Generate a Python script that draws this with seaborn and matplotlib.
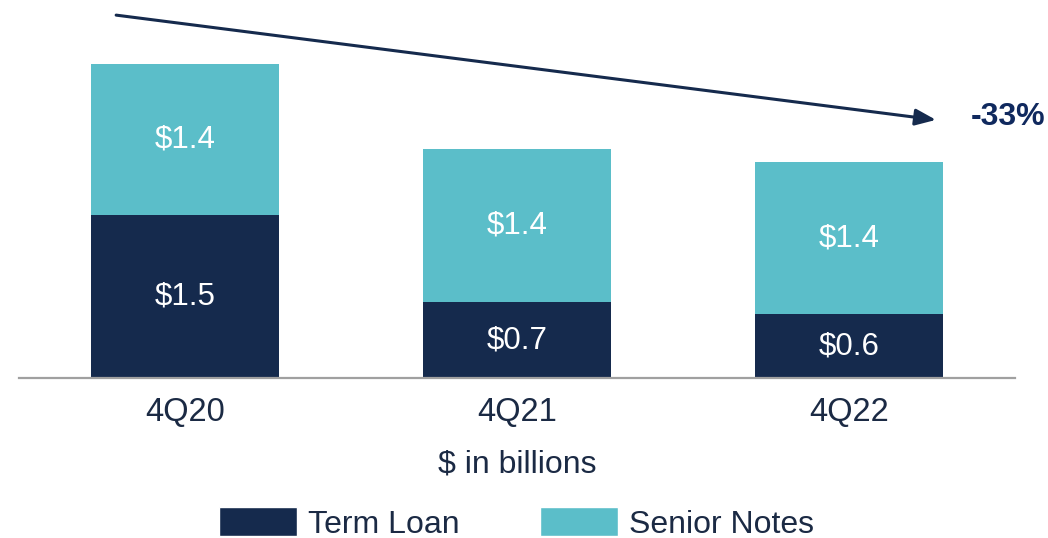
import matplotlib
matplotlib.use("Agg")
import matplotlib.pyplot as plt
from matplotlib.patches import Patch
import pandas as pd
import seaborn as sns

quarters = ["4Q20", "4Q21", "4Q22"]
term_loan = [1.51, 0.70, 0.59]
senior_notes = [1.40, 1.42, 1.41]
term_labels = ["$1.5", "$0.7", "$0.6"]
senior_labels = ["$1.4", "$1.4", "$1.4"]
change_label = "-33%"

navy = "#152a4d"
teal = "#5bbec9"
text_col = "#1b2a44"

df = pd.DataFrame({"quarter": quarters, "term": term_loan, "senior": senior_notes})
df["total"] = df["term"] + df["senior"]

sns.set_style("white")
plt.rcParams["font.family"] = ["Liberation Sans", "DejaVu Sans"]

fig = plt.figure(figsize=(10.48, 5.38), dpi=100)
ax = fig.add_axes([0.018, 0.2974, 0.9505, 0.7026])

sns.barplot(data=df, x="quarter", y="total", color=teal, width=0.565, saturation=1,
            linewidth=0, edgecolor="none", ax=ax)
sns.barplot(data=df, x="quarter", y="term", color=navy, width=0.565, saturation=1,
            linewidth=0, edgecolor="none", ax=ax)

ax.set_xlim(-0.5, 2.5)
ax.set_ylim(0, 3.5)

for i, row in df.iterrows():
    ax.text(i, row["term"] / 2, term_labels[i], ha="center", va="center",
            color="white", fontsize=22.5)
    ax.text(i, row["term"] + row["senior"] / 2, senior_labels[i], ha="center", va="center",
            color="white", fontsize=22.5)

# trend arrow
ax.annotate("", xy=(2.262, 2.39), xytext=(-0.207, 3.36),
            arrowprops=dict(arrowstyle="-|>,head_length=1.25,head_width=0.5",
                            color=navy, lw=2.2, shrinkA=0, shrinkB=0))
ax.text(2.478, 2.42, change_label, ha="center", va="center", fontsize=23,
        fontweight="bold", color="#10295e")

sns.despine(ax=ax, left=True)
ax.spines["bottom"].set_color("#a0a0a0")
ax.spines["bottom"].set_linewidth(1.6)
ax.set_yticks([])
ax.set_ylabel("")
ax.tick_params(axis="x", length=0, pad=14, labelsize=23.5, labelcolor=text_col)
ax.set_xlabel("$ in billions", fontsize=23, color=text_col, labelpad=15)

handles = [Patch(facecolor=navy, label="Term Loan"), Patch(facecolor=teal, label="Senior Notes")]
leg = fig.legend(handles=handles, loc="center", bbox_to_anchor=(0.493, 0.027), ncol=2,
                 frameon=False, fontsize=23, handlelength=2.45, handleheight=1.0,
                 handletextpad=0.35, columnspacing=2.5)
for t in leg.get_texts():
    t.set_color(text_col)

fig.savefig("out.png", dpi=100)
